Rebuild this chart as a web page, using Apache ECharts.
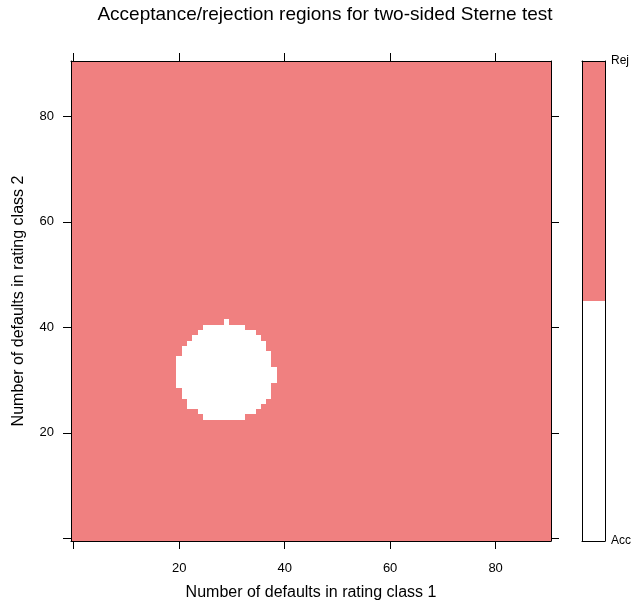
<!DOCTYPE html>
<html>
<head>
<meta charset="utf-8">
<script src="https://cdn.jsdelivr.net/npm/echarts@6/dist/echarts.min.js"></script>
<style>
html,body{margin:0;padding:0;background:#fff;}
#chart{width:634px;height:604px;}
</style>
</head>
<body>
<div id="chart"></div>
<script>
// ---- data ----
const titleText = 'Acceptance/rejection regions for two-sided Sterne test';
const xName = 'Number of defaults in rating class 1';
const yName = 'Number of defaults in rating class 2';
const gridMin = 0;
const gridMax = 90;
const tickValues = [0, 20, 40, 60, 80];
const labelValues = [20, 40, 60, 80];
// acceptance region: for each row y (class 2), accepted x (class 1) from..to
const accRowY    = [23, 24, 25, 26, 27, 28, 29, 30, 31, 32, 33, 34, 35, 36, 37, 38, 39, 40, 41];
const accRowFrom = [25, 24, 22, 22, 21, 21, 20, 20, 20, 20, 20, 20, 21, 21, 22, 23, 24, 25, 29];
const accRowTo   = [32, 34, 35, 36, 37, 37, 37, 38, 38, 38, 37, 37, 37, 36, 36, 35, 34, 32, 29];
const keyLevels = ['Acc', 'Rej'];
const keyBreaks = [0, 0.5, 1];
const levelCodes = [0, 1];

// ---- build ----
const cats = [];
for (let v = gridMin; v <= gridMax; v++) cats.push(String(v));
const cells = [];
for (let xi = 0; xi < cats.length; xi++) {
  for (let yi = 0; yi < cats.length; yi++) {
    const x = gridMin + xi, y = gridMin + yi;
    const r = accRowY.indexOf(y);
    const acc = r >= 0 && x >= accRowFrom[r] && x <= accRowTo[r];
    cells.push([xi, yi, acc ? levelCodes[0] : levelCodes[1]]);
  }
}
const ACC_COLOR = '#FFFFFF', REJ_COLOR = '#F08080';
const FONT = '"Liberation Sans", Arial, sans-serif';
const tickFn = (i, v) => tickValues.indexOf(Number(v)) >= 0;
const labelFn = (i, v) => labelValues.indexOf(Number(v)) >= 0;
const lineBlack = {show: true, onZero: false, lineStyle: {color: '#000', width: 1}};
const tickCfg = {show: true, alignWithLabel: true, interval: tickFn, length: 8, inside: false, lineStyle: {color: '#000', width: 1}};

function renderCell(params, api) {
  const c = api.coord([api.value(0), api.value(1)]);
  const s = api.size([1, 1]);
  const x0 = Math.round(c[0] - s[0] / 2), x1 = Math.round(c[0] + s[0] / 2);
  const y0 = Math.round(c[1] - s[1] / 2), y1 = Math.round(c[1] + s[1] / 2);
  return {
    type: 'rect',
    shape: {x: x0, y: y0, width: x1 - x0, height: y1 - y0},
    style: {fill: api.visual('color'), stroke: null}
  };
}

const chart = echarts.init(document.getElementById('chart'), null, {renderer: 'canvas'});
chart.setOption({
  animation: false,
  backgroundColor: '#fff',
  textStyle: {fontFamily: FONT},
  title: {
    text: titleText, left: 320, top: 0, textAlign: 'center',
    textStyle: {fontSize: 19, fontWeight: 'normal', color: '#000', fontFamily: FONT}
  },
  grid: [
    {left: 71, top: 61, width: 480, height: 480, containLabel: false, outerBoundsMode: 'none'},
    {left: 582, top: 61, width: 23, height: 480, containLabel: false, outerBoundsMode: 'none'}
  ],
  visualMap: {
    type: 'piecewise', show: false, seriesIndex: 0, dimension: 2,
    pieces: [{value: levelCodes[0], color: ACC_COLOR}, {value: levelCodes[1], color: REJ_COLOR}]
  },
  xAxis: [
    {gridIndex: 0, type: 'category', data: cats, position: 'bottom', boundaryGap: true, z: 10,
     axisLine: lineBlack, axisTick: tickCfg,
     axisLabel: {interval: labelFn, fontSize: 13, color: '#000', margin: 21, fontFamily: FONT},
     splitLine: {show: false},
     name: xName, nameLocation: 'middle', nameGap: 44,
     nameTextStyle: {fontSize: 16, color: '#000', fontFamily: FONT}},
    {gridIndex: 0, type: 'category', data: cats, position: 'top', boundaryGap: true, z: 10,
     axisLine: lineBlack, axisTick: tickCfg, axisLabel: {show: false}, splitLine: {show: false}},
    {gridIndex: 1, type: 'category', data: ['key'], position: 'bottom', boundaryGap: true, z: 10,
     axisLine: lineBlack, axisTick: {show: false}, axisLabel: {show: false}},
    {gridIndex: 1, type: 'category', data: ['key'], position: 'top', boundaryGap: true, z: 10,
     axisLine: lineBlack, axisTick: {show: false}, axisLabel: {show: false}}
  ],
  yAxis: [
    {gridIndex: 0, type: 'category', data: cats, position: 'left', boundaryGap: true, z: 10,
     axisLine: lineBlack, axisTick: tickCfg,
     axisLabel: {interval: labelFn, fontSize: 13, color: '#000', margin: 17, fontFamily: FONT},
     splitLine: {show: false},
     name: yName, nameLocation: 'middle', nameGap: 44,
     nameTextStyle: {fontSize: 16, color: '#000', fontFamily: FONT}},
    {gridIndex: 0, type: 'category', data: cats, position: 'right', boundaryGap: true, z: 10,
     axisLine: lineBlack, axisTick: tickCfg, axisLabel: {show: false}, splitLine: {show: false}},
    {gridIndex: 1, type: 'value', min: keyBreaks[0], max: keyBreaks[2], interval: keyBreaks[2] - keyBreaks[0],
     position: 'right', z: 10, axisLine: lineBlack, axisTick: {show: false}, splitLine: {show: false},
     axisLabel: {fontSize: 12, color: '#000', margin: 6, fontFamily: FONT,
       formatter: v => (v === keyBreaks[0] ? keyLevels[0] : keyLevels[1])}},
    {gridIndex: 1, type: 'value', min: keyBreaks[0], max: keyBreaks[2],
     position: 'left', z: 10, axisLine: lineBlack, axisTick: {show: false}, splitLine: {show: false},
     axisLabel: {show: false}}
  ],
  series: [
    {type: 'custom', xAxisIndex: 0, yAxisIndex: 0, data: cells, renderItem: renderCell,
     encode: {x: 0, y: 1}, silent: true, progressive: 0},
    {type: 'bar', xAxisIndex: 2, yAxisIndex: 2, stack: 'key', data: [keyBreaks[1] - keyBreaks[0]],
     barWidth: '100%', itemStyle: {color: ACC_COLOR}, silent: true},
    {type: 'bar', xAxisIndex: 2, yAxisIndex: 2, stack: 'key', data: [keyBreaks[2] - keyBreaks[1]],
     barWidth: '100%', itemStyle: {color: REJ_COLOR}, silent: true}
  ]
});
</script>
</body>
</html>
